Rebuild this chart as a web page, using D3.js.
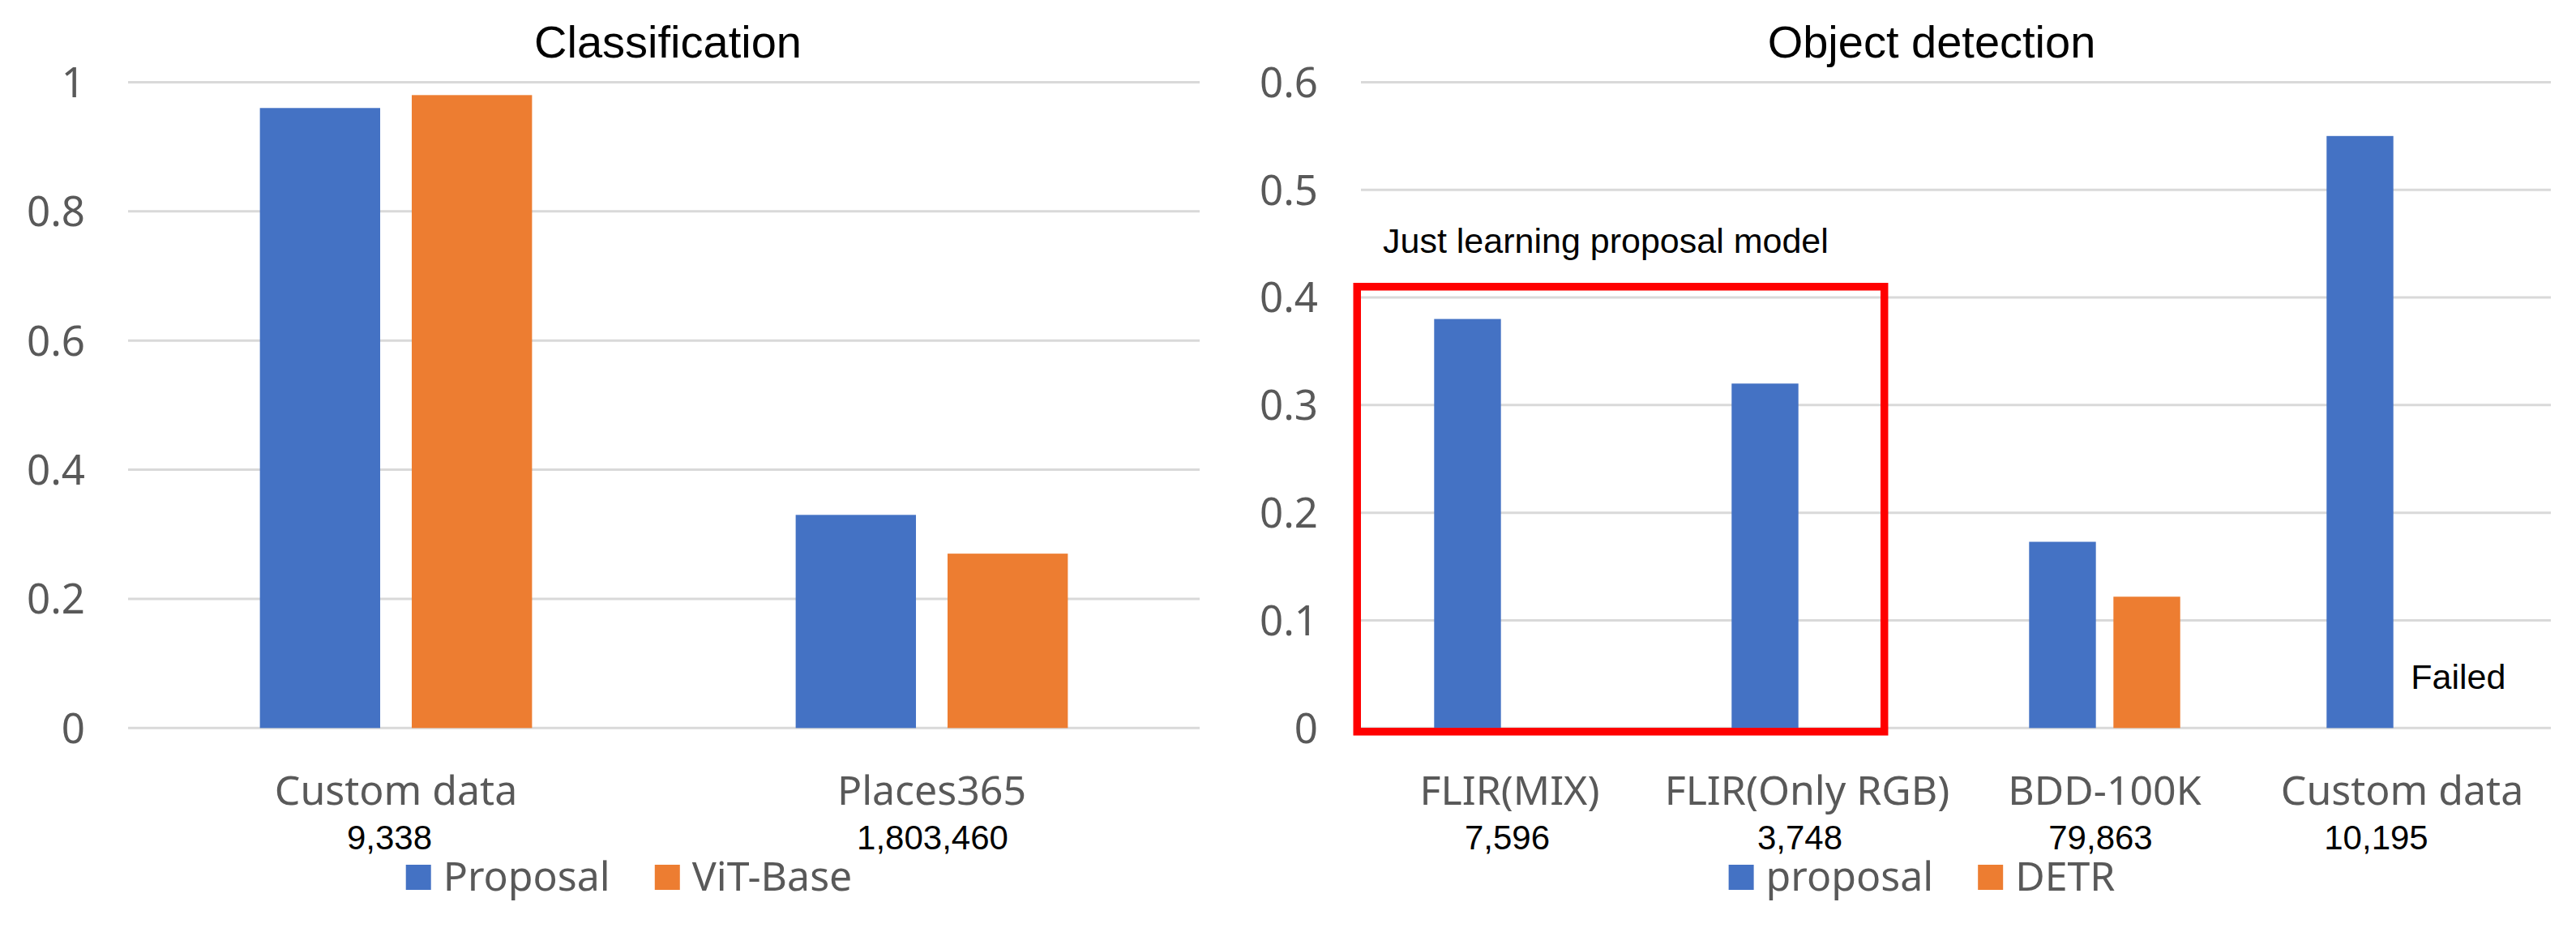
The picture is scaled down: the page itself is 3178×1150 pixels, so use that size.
<!DOCTYPE html>
<html>
<head>
<meta charset="utf-8">
<script src="https://cdn.jsdelivr.net/npm/d3@7"></script>
<style>
  body { margin: 0; background: #fff; }
  svg { display: block; }
</style>
</head>
<body>
<svg id="chart" width="3178" height="1150"></svg>
<script>
// Classification panel
const clsCategories = ["Custom data", "Places365"];
const clsCounts = ["9,338", "1,803,460"];
const clsSeries = ["Proposal", "ViT-Base"];
const clsProposal = [0.96, 0.33];
const clsVit = [0.98, 0.27];
const clsTicks = [0, 0.2, 0.4, 0.6, 0.8, 1];

// Object detection panel
const detCategories = ["FLIR(MIX)", "FLIR(Only RGB)", "BDD-100K", "Custom data"];
const detCounts = ["7,596", "3,748", "79,863", "10,195"];
const detSeries = ["proposal", "DETR"];
const detProposal = [0.38, 0.32, 0.173, 0.55];
const detDetr = [null, null, 0.122, null];   // DETR failed on the rest
const detTicks = [0, 0.1, 0.2, 0.3, 0.4, 0.5, 0.6];

const colors = ["#4472C4", "#ED7D31"];
const grayText = "#595959";
const svg = d3.select("#chart");
svg.append("rect").attr("width", 3178).attr("height", 1150).attr("fill", "#fff");

function drawPanel(opt) {
  const x0 = d3.scaleBand().domain(opt.categories).range([opt.left, opt.right]);
  const x1 = d3.scaleBand().domain(opt.series).range([0, x0.bandwidth()])
    .paddingInner(0.208).paddingOuter(0.868);
  const y = d3.scaleLinear().domain([0, opt.max]).range([898.3, 101.4]);

  const g = svg.append("g");

  // gridlines
  g.selectAll(".grid")
    .data(opt.ticks)
    .enter()
    .append("line")
    .attr("x1", opt.left).attr("x2", opt.right)
    .attr("y1", d => y(d)).attr("y2", d => y(d))
    .attr("stroke", "#D9D9D9").attr("stroke-width", 3);

  // y tick labels
  g.selectAll(".ytick")
    .data(opt.ticks)
    .enter()
    .append("text")
    .attr("x", opt.left - 53)
    .attr("y", d => y(d))
    .attr("dy", "0.36em")
    .attr("text-anchor", "end")
    .attr("fill", grayText)
    .style("font-family", "'Noto Sans'")
    .style("font-size", "51px")
    .text(d => d3.format("~g")(d));

  // bars
  const rows = opt.categories.map((c, i) => ({ c, vals: opt.values.map(v => v[i]) }));
  const grp = g.selectAll(".grp")
    .data(rows)
    .enter()
    .append("g")
    .attr("transform", d => `translate(${x0(d.c)},0)`);

  grp.selectAll("rect")
    .data(d => d.vals.map((v, k) => ({ s: opt.series[k], v, k })).filter(d => d.v != null))
    .enter()
    .append("rect")
    .attr("x", d => x1(d.s))
    .attr("width", x1.bandwidth())
    .attr("y", d => y(d.v))
    .attr("height", d => y(0) - y(d.v))
    .attr("fill", d => colors[d.k]);

  // category labels + sample counts
  g.selectAll(".cat")
    .data(opt.categories)
    .enter()
    .append("text")
    .attr("x", d => x0(d) + x0.bandwidth() / 2)
    .attr("y", 993)
    .attr("text-anchor", "middle")
    .attr("fill", grayText)
    .style("font-family", "'Noto Sans'")
    .style("font-size", "50px")
    .text(d => d);

  // counts sit a little off centre in the original (trailing spaces)
  g.selectAll(".cnt")
    .data(opt.counts)
    .enter()
    .append("text")
    .attr("x", (d, i) => x0(opt.categories[i]) + x0.bandwidth() / 2 + opt.countShift[i])
    .attr("y", 1048)
    .attr("text-anchor", "middle")
    .attr("fill", "#000")
    .style("font-family", "'Liberation Sans', Arial")
    .style("font-size", "42px")
    .text(d => d);

  // title
  g.append("text")
    .attr("x", opt.titleX)
    .attr("y", 71)
    .attr("text-anchor", "middle")
    .attr("fill", "#000")
    .style("font-family", "'Liberation Sans', Arial")
    .style("font-size", "56px")
    .text(opt.title);

  // legend, centred on legendX
  const leg = g.append("g");
  let cx = 0;
  opt.series.forEach((s, k) => {
    leg.append("rect")
      .attr("x", cx).attr("y", 1067)
      .attr("width", 31).attr("height", 31)
      .attr("fill", colors[k]);
    const t = leg.append("text")
      .attr("x", cx + 46).attr("y", 1099)
      .attr("fill", grayText)
      .style("font-family", "'Noto Sans'")
      .style("font-size", "50px")
      .text(s);
    cx += 46 + t.node().getComputedTextLength() + 55;
  });
  const legW = cx - 55;
  leg.attr("transform", `translate(${opt.legendX - legW / 2},0)`);

  return { x0, x1, y, g };
}

drawPanel({
  categories: clsCategories, counts: clsCounts, series: clsSeries,
  values: [clsProposal, clsVit], ticks: clsTicks, max: 1,
  left: 158, right: 1480, title: "Classification", titleX: 824, legendX: 776,
  countShift: [-8, 1]
});

const det = drawPanel({
  categories: detCategories, counts: detCounts, series: detSeries,
  values: [detProposal, detDetr], ticks: detTicks, max: 0.6,
  left: 1679, right: 3147, title: "Object detection", titleX: 2383, legendX: 2371,
  countShift: [-3, -9, -5, -32]
});

// red box round the FLIR results
const boxStroke = 9.5;
const boxLeft = det.x0.range()[0] - boxStroke / 2;
const boxRight = det.x0("FLIR(Only RGB)") + det.x1("DETR") + det.x1.bandwidth() + 2;
const boxTop = det.y(0.41);
const boxBottom = det.y(0) + 4.5;
det.g.append("rect")
  .attr("x", boxLeft).attr("y", boxTop)
  .attr("width", boxRight - boxLeft).attr("height", boxBottom - boxTop)
  .attr("fill", "none")
  .attr("stroke", "#FF0000")
  .attr("stroke-width", boxStroke);

det.g.append("text")
  .attr("x", det.x0.range()[0] + 27)
  .attr("y", 312)
  .attr("fill", "#000")
  .style("font-family", "'Liberation Sans', Arial")
  .style("font-size", "43px")
  .text("Just learning proposal model");

det.g.append("text")
  .attr("x", det.x0("Custom data") + det.x1("DETR"))
  .attr("y", 850)
  .attr("fill", "#000")
  .style("font-family", "'Liberation Sans', Arial")
  .style("font-size", "43px")
  .text("Failed");
</script>
</body>
</html>
